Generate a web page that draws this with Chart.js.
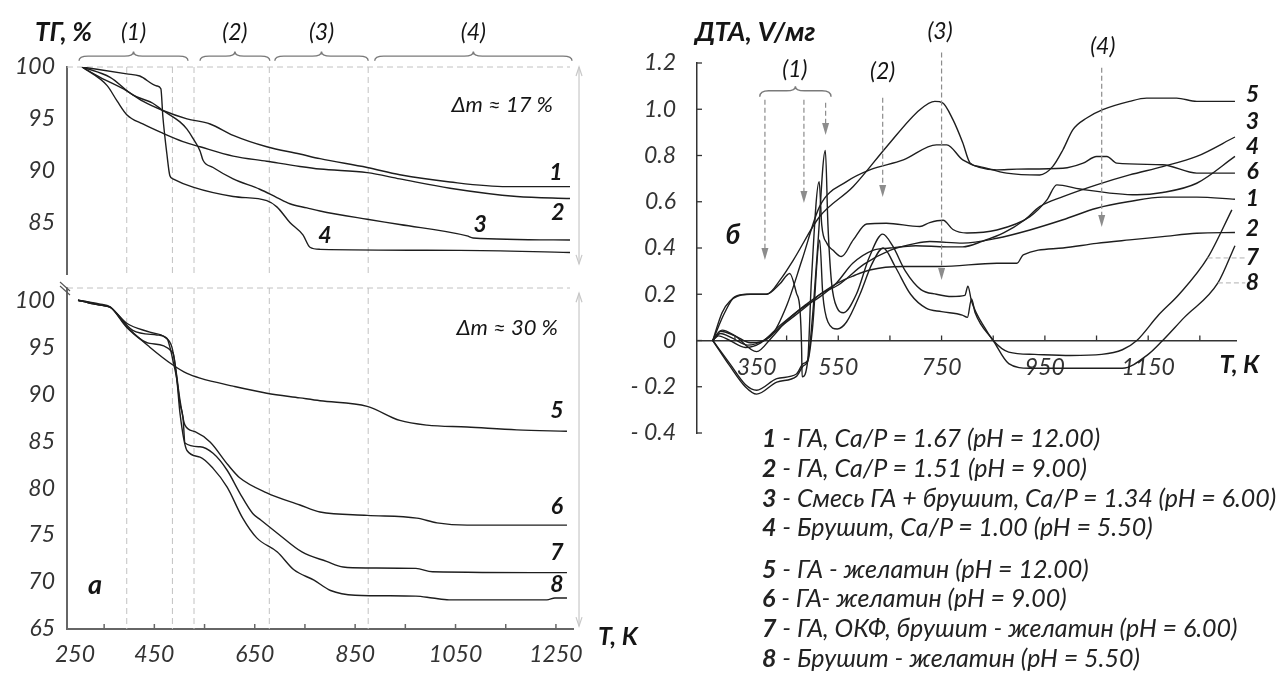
<!DOCTYPE html>
<html>
<head>
<meta charset="utf-8">
<script src="https://cdn.jsdelivr.net/npm/chart.js@4.4.1/dist/chart.umd.min.js"></script>
<style>
body { margin: 0; background: #fff; width: 1276px; height: 687px; overflow: hidden; position: relative; }
canvas { position: absolute; top: 0; }
#tgTop, #tgBot { left: 0; }
#dta { left: 600px; }
.leg { position: absolute; left: 762px; font: italic 25px Lato, sans-serif; color: #222; white-space: nowrap; line-height: 28px; }
.leg b { font-weight: bold; }
</style>
</head>
<body>
<canvas id="tgBot" width="640" height="687"></canvas>
<canvas id="tgTop" width="640" height="300"></canvas>
<canvas id="dta" width="676" height="687"></canvas>
<div id="legend"></div>
<script>
// ---- TG (mass loss, %) vs T, K ----
const tgXMin = 276, tgXMax = 1284;
const tgTopTicks = [85, 90, 95, 100];
const tgBotTicks = [65, 70, 75, 80, 85, 90, 95, 100];
const tgXTickVals = [292, 450, 650, 850, 1050, 1250];
const tgXTickLabels = ['250', '450', '650', '850', '1050', '1250'];
const tgXMinor = [350, 450, 550, 650, 750, 850, 950, 1050, 1150, 1250];
const tgStageLines = [395, 486, 529, 679, 876];
const tgStages = [[300, 517], [541, 680], [690, 876], [889, 1282]];
const stageNames = ['(1)', '(2)', '(3)', '(4)'];

const tg1T = [306, 342, 395, 427, 467, 515, 561, 607, 674, 740, 780, 874, 939, 1039, 1152, 1278];
const tg1 = [100, 99.0, 97.7, 96.7, 95.8, 95.0, 94.5, 93.4, 92.3, 91.6, 91.15, 90.3, 89.6, 88.9, 88.45, 88.45];
const tg2T = [306, 356, 376, 395, 427, 467, 507, 541, 607, 674, 740, 780, 874, 939, 1039, 1172, 1278];
const tg2 = [100, 98.2, 96.7, 95.4, 94.5, 93.6, 92.8, 92.3, 91.4, 90.9, 90.4, 90.15, 89.8, 89.2, 88.3, 87.5, 87.3];
const tg3T = [306, 362, 407, 447, 467, 501, 515, 527, 541, 547, 567, 607, 660, 694, 720, 754, 780, 874, 939, 1073, 1085, 1278];
const tg3 = [100, 99.0, 97.3, 96.5, 95.8, 94.7, 94.0, 93.1, 91.9, 91.0, 90.3, 89.2, 88.2, 87.4, 86.8, 86.4, 86.1, 85.3, 84.8, 83.7, 83.5, 83.3];
const tg4T = [306, 395, 421, 455, 463, 467, 475, 481, 487, 527, 607, 674, 694, 720, 746, 760, 780, 1059, 1278];
const tg4 = [100, 99.34, 99.13, 98.17, 97.9, 95.2, 91.6, 89.5, 89.2, 88.4, 87.5, 87.1, 86.5, 85.0, 83.8, 82.6, 82.4, 82.3, 82.1];

const tg5T = [298, 320, 340, 362, 395, 441, 487, 515, 541, 607, 674, 740, 780, 874, 939, 993, 1073, 1172, 1272];
const tg5 = [100, 99.8, 99.6, 99.3, 97.2, 95.0, 93.1, 92.2, 91.7, 90.85, 90.1, 89.6, 89.3, 88.7, 87.2, 86.7, 86.5, 86.2, 86.05];
const tg6T = [298, 320, 340, 362, 395, 441, 471, 485, 493, 501, 511, 531, 561, 597, 620, 674, 740, 780, 874, 973, 1013, 1073, 1272];
const tg6 = [100, 99.7, 99.5, 99.25, 97.55, 96.6, 96.06, 95.0, 92.55, 89.4, 86.7, 86.0, 84.9, 82.45, 81.1, 79.5, 78.2, 77.45, 77.1, 76.8, 76.3, 76.06, 76.06];
const tg7T = [298, 320, 340, 362, 407, 455, 475, 481, 487, 495, 501, 507, 511, 541, 567, 595, 620, 646, 662, 695, 744, 793, 826, 874, 971, 1004, 1272];
const tg7 = [100, 99.8, 99.5, 99.25, 96.8, 96.3, 95.96, 95.0, 93.6, 91.5, 89.0, 87.55, 84.8, 84.4, 83.7, 81.9, 79.5, 77.3, 76.6, 75.2, 73.2, 72.2, 71.6, 71.5, 71.45, 71.1, 71.0];
const tg8T = [298, 320, 340, 362, 395, 441, 487, 495, 501, 515, 541, 567, 595, 626, 654, 695, 728, 768, 801, 850, 971, 1004, 1037, 1232, 1248, 1272];
const tg8 = [100, 99.7, 99.5, 99.25, 97.1, 95.4, 94.4, 91.5, 88.0, 84.0, 83.3, 82.1, 80.1, 76.8, 74.7, 73.2, 71.3, 70.2, 69.1, 68.6, 68.5, 68.3, 68.1, 68.1, 68.3, 68.3];

// ---- DTA, V/mg vs T, K ----
const dtaXMin = 276.5, dtaXMax = 1320;
const dtaYTicks = [-0.4, -0.2, 0, 0.2, 0.4, 0.6, 0.8, 1.0, 1.2];
const dtaYLabels = ['- 0.4', '- 0.2', '0', '0.2', '0.4', '0.6', '0.8', '1.0', '1.2'];
const dtaXTickVals = [392, 550, 750, 950, 1150];
const dtaXTickLabels = ['350', '550', '750', '950', '1150'];
const dtaXMinor = [350, 450, 550, 650, 750, 850, 950, 1050, 1150, 1250];

const dta1T = [307, 322, 345, 375, 405, 450, 490, 515, 550, 600, 650, 700, 727, 791, 857, 921, 985, 1050, 1114, 1178, 1244, 1318];
const dta1 = [0, 0.03, 0.01, -0.02, 0, 0.08, 0.15, 0.2, 0.24, 0.33, 0.39, 0.42, 0.428, 0.421, 0.442, 0.478, 0.522, 0.572, 0.601, 0.62, 0.62, 0.611];
const dta2T = [307, 325, 350, 392, 420, 450, 490, 515, 550, 580, 611, 675, 747, 857, 896, 908, 985, 1050, 1114, 1178, 1244, 1318];
const dta2 = [0, 0.045, 0.02, -0.048, 0.01, 0.085, 0.16, 0.2, 0.25, 0.28, 0.305, 0.32, 0.32, 0.334, 0.334, 0.37, 0.4, 0.42, 0.435, 0.449, 0.464, 0.467];
const dta3T = [307, 318, 340, 370, 400, 440, 480, 515, 547, 578, 617, 650, 700, 760, 791, 830, 870, 910, 940, 985, 1050, 1114, 1178, 1244, 1318];
const dta3 = [0, 0.02, 0.0, -0.03, -0.01, 0.07, 0.14, 0.19, 0.25, 0.334, 0.39, 0.40, 0.41, 0.405, 0.405, 0.43, 0.465, 0.52, 0.579, 0.622, 0.673, 0.716, 0.752, 0.796, 0.88];
const dta4T = [307, 325, 340, 373, 411, 437, 456, 469, 476, 479, 480, 491, 498, 513, 518, 528, 540, 556, 579, 605, 643, 708, 727, 753, 772, 799, 857, 921, 954, 973, 1018, 1128, 1178, 1244, 1318];
const dta4 = [0, 0.12, 0.17, 0.2, 0.2, 0.245, 0.29, 0.205, 0.13, -0.03, -0.157, -0.084, 0.26, 0.687, 0.5, 0.42, 0.39, 0.363, 0.435, 0.504, 0.507, 0.493, 0.51, 0.52, 0.48, 0.465, 0.478, 0.536, 0.608, 0.673, 0.655, 0.63, 0.64, 0.68, 0.796];
const dta5T = [307, 330, 350, 380, 411, 440, 463, 514, 579, 644, 708, 737, 752, 772, 791, 805, 824, 876, 940, 965, 985, 1004, 1031, 1062, 1114, 1147, 1205, 1244, 1318];
const dta5 = [0, 0.12, 0.19, 0.2, 0.2, 0.27, 0.348, 0.536, 0.666, 0.839, 0.998, 1.034, 1.028, 0.955, 0.855, 0.768, 0.752, 0.724, 0.716, 0.752, 0.825, 0.911, 0.962, 0.998, 1.034, 1.048, 1.048, 1.034, 1.034];
const dta6T = [307, 322, 350, 380, 420, 450, 480, 514, 566, 611, 676, 740, 760, 791, 857, 896, 985, 1024, 1050, 1070, 1089, 1178, 1244, 1318];
const dta6 = [0, 0.04, 0.02, -0.01, 0.02, 0.15, 0.35, 0.58, 0.687, 0.738, 0.781, 0.846, 0.846, 0.781, 0.738, 0.741, 0.745, 0.767, 0.796, 0.796, 0.767, 0.76, 0.724, 0.724];
const dta7T = [307, 340, 370, 392, 431, 469, 482, 491, 500, 510, 525, 530, 537, 548, 560, 585, 610, 636, 655, 680, 710, 740, 770, 795, 801, 808, 835, 850, 880, 930, 1000, 1060, 1100, 1128, 1170, 1210, 1265, 1312];
const dta7 = [0, -0.1, -0.19, -0.215, -0.165, -0.145, -0.1, -0.084, 0.1, 0.4, 0.822, 0.5, 0.25, 0.14, 0.12, 0.2, 0.36, 0.46, 0.41, 0.3, 0.22, 0.2, 0.19, 0.195, 0.235, 0.17, 0.05, 0, -0.05, -0.06, -0.065, -0.06, -0.04, 0, 0.11, 0.2, 0.357, 0.565];
const dta8T = [307, 340, 370, 392, 431, 469, 482, 491, 500, 514, 520, 530, 548, 566, 592, 615, 637, 660, 690, 720, 750, 790, 800, 808, 815, 850, 880, 920, 1000, 1100, 1150, 1178, 1220, 1285, 1318];
const dta8 = [0, -0.11, -0.2, -0.232, -0.18, -0.155, -0.11, -0.09, 0.05, 0.435, 0.2, 0.08, 0.05, 0.08, 0.2, 0.33, 0.40, 0.32, 0.2, 0.14, 0.125, 0.11, 0.1, 0.18, 0.12, 0, -0.1, -0.12, -0.12, -0.12, -0.06, 0, 0.1, 0.249, 0.41];

const legendNums = ['1', '2', '3', '4', '5', '6', '7', '8'];
const legendTexts = [
    ' - ГА, Ca/P = 1.67 (pH = 12.00)',
    ' - ГА, Ca/P = 1.51 (pH = 9.00)',
    ' - Смесь ГА + брушит, Ca/P = 1.34 (pH = 6.00)',
    ' - Брушит, Ca/P = 1.00 (pH = 5.50)',
    ' - ГА - желатин (pH = 12.00)',
    ' - ГА- желатин (pH = 9.00)',
    ' - ГА, ОКФ, брушит - желатин (pH = 6.00)',
    ' - Брушит - желатин (pH = 5.50)'
];

const FAM = 'Lato, "Open Sans", sans-serif';
const F_IT = 'italic 23px ' + FAM;
const F_BI = 'italic bold 23px ' + FAM;
const TICK_FONT = { family: FAM, size: 23, style: 'italic' };
const DASH = '#c2c2c2';

function ser(T, V) {
    return T.map((t, i) => ({ x: t, y: V[i] }));
}
function ds(T, V) {
    return { data: ser(T, V), borderColor: '#1e1e1e', borderWidth: 1.4, pointRadius: 0, fill: false, cubicInterpolationMode: 'monotone' };
}
function line(ctx, x1, y1, x2, y2) {
    ctx.beginPath(); ctx.moveTo(x1, y1); ctx.lineTo(x2, y2); ctx.stroke();
}
function label(ctx, s, x, y, font, align) {
    ctx.font = font; ctx.fillStyle = '#151515';
    ctx.textAlign = align || 'center'; ctx.textBaseline = 'middle';
    ctx.fillText(s, x, y);
}
function brace(ctx, x1, x2, yEnd, yBody, yTip) {
    const xm = (x1 + x2) / 2, r = 9;
    ctx.beginPath();
    ctx.moveTo(x1, yEnd);
    ctx.quadraticCurveTo(x1, yBody, x1 + r, yBody);
    ctx.lineTo(xm - r, yBody);
    ctx.quadraticCurveTo(xm, yBody, xm, yTip);
    ctx.quadraticCurveTo(xm, yBody, xm + r, yBody);
    ctx.lineTo(x2 - r, yBody);
    ctx.quadraticCurveTo(x2, yBody, x2, yEnd);
    ctx.stroke();
}
function dblArrow(ctx, x, y1, y2) {
    line(ctx, x, y1, x, y2);
    ctx.beginPath(); ctx.moveTo(x - 3, y1 + 9); ctx.lineTo(x, y1); ctx.lineTo(x + 3, y1 + 9); ctx.stroke();
    ctx.beginPath(); ctx.moveTo(x - 3, y2 - 9); ctx.lineTo(x, y2); ctx.lineTo(x + 3, y2 - 9); ctx.stroke();
}
function downArrow(ctx, x, y1, y2) {
    ctx.setLineDash([5, 3]);
    line(ctx, x, y1, x, y2 - 6);
    ctx.setLineDash([]);
    ctx.beginPath(); ctx.moveTo(x - 3.5, y2 - 12); ctx.lineTo(x, y2); ctx.lineTo(x + 3.5, y2 - 12); ctx.closePath(); ctx.fill();
}

const baseOptions = () => ({
    responsive: false,
    animation: false,
    plugins: { legend: { display: false }, tooltip: { enabled: false } },
    elements: { point: { radius: 0 } }
});

// upper TG panel (curves 1-4)
const tgTopDeco = {
    id: 'tgTopDeco',
    beforeDatasetsDraw(chart) {
        const { ctx, chartArea: ca, scales: { x, y } } = chart;
        ctx.save();
        ctx.strokeStyle = DASH; ctx.lineWidth = 1; ctx.setLineDash([6, 4]);
        line(ctx, ca.left, y.getPixelForValue(100), ca.right - 3, y.getPixelForValue(100));
        tgStageLines.forEach(t => line(ctx, x.getPixelForValue(t), y.getPixelForValue(100), x.getPixelForValue(t), ca.bottom));
        ctx.restore();
    },
    afterDraw(chart) {
        const { ctx, chartArea: ca, scales: { x, y } } = chart;
        const X = v => x.getPixelForValue(v), Y = v => y.getPixelForValue(v);
        ctx.save();
        ctx.strokeStyle = '#7a7a7a'; ctx.lineWidth = 1.4;
        tgStages.forEach((s, i) => {
            brace(ctx, X(s[0]), X(s[1]), Y(100.6), Y(101.05), Y(101.5));
            label(ctx, stageNames[i], X((s[0] + s[1]) / 2), Y(103.3), F_IT);
        });
        label(ctx, 'ТГ, %', ca.left - 32, Y(103.3), 'italic bold 26px ' + FAM, 'left');
        label(ctx, '\u0394m \u2248 17 %', X(1143), Y(96.37), 'italic 22px ' + FAM);
        [['1', 1250, 89.8], ['2', 1254, 85.9], ['3', 1099, 84.83], ['4', 790, 83.75]]
            .forEach(l => label(ctx, l[0], X(l[1]), Y(l[2]), F_BI));
        ctx.strokeStyle = '#c8c8c8'; ctx.lineWidth = 1.2;
        dblArrow(ctx, X(1296), Y(100), Y(81));
        ctx.restore();
    }
};

new Chart(document.getElementById('tgTop'), {
    type: 'line',
    data: { datasets: [ds(tg1T, tg1), ds(tg2T, tg2), ds(tg3T, tg3), ds(tg4T, tg4)] },
    options: Object.assign(baseOptions(), {
        layout: { padding: { left: 0, top: 67, right: 67, bottom: 12 } },
        scales: {
            x: { type: 'linear', min: tgXMin, max: tgXMax, display: false },
            y: {
                min: 80, max: 100,
                afterFit: s => { s.width = 67; },
                afterBuildTicks: s => { s.ticks = tgTopTicks.map(v => ({ value: v })); },
                grid: { display: false, drawTicks: false },
                border: { display: true, color: '#666', width: 2 },
                ticks: { padding: 12, color: '#333', font: TICK_FONT }
            }
        }
    }),
    plugins: [tgTopDeco]
});

// lower TG panel (curves 5-8)
const tgBotDeco = {
    id: 'tgBotDeco',
    beforeDatasetsDraw(chart) {
        const { ctx, chartArea: ca, scales: { x } } = chart;
        ctx.save();
        ctx.strokeStyle = DASH; ctx.lineWidth = 1; ctx.setLineDash([6, 4]);
        line(ctx, ca.left, ca.top, ca.right - 3, ca.top);
        tgStageLines.forEach(t => line(ctx, x.getPixelForValue(t), ca.top, x.getPixelForValue(t), ca.bottom));
        ctx.restore();
    },
    afterDraw(chart) {
        const { ctx, chartArea: ca, scales: { x, y } } = chart;
        const X = v => x.getPixelForValue(v), Y = v => y.getPixelForValue(v);
        ctx.save();
        ctx.strokeStyle = '#666'; ctx.lineWidth = 1.5;
        tgXMinor.forEach(t => line(ctx, X(t), ca.bottom, X(t), ca.bottom - 5));
        ctx.strokeStyle = '#555'; ctx.lineWidth = 1.1;
        line(ctx, ca.left - 7, ca.top - 6, ca.left + 3, ca.top + 3);
        line(ctx, ca.left - 7, ca.top - 2, ca.left + 3, ca.top + 7);
        [['5', 1252, 88.3], ['6', 1252, 78.0], ['7', 1252, 73.1], ['8', 1252, 69.7]]
            .forEach(l => label(ctx, l[0], X(l[1]), Y(l[2]), F_BI));
        label(ctx, '\u0394m \u2248 30 %', X(1153), Y(97.1), 'italic 22px ' + FAM);
        label(ctx, 'а', X(332), Y(69.6), 'italic bold 27px ' + FAM);
        label(ctx, 'T, K', ca.right + 25, Y(65) + 8, 'italic bold 25px ' + FAM, 'left');
        ctx.strokeStyle = '#c8c8c8'; ctx.lineWidth = 1.2;
        dblArrow(ctx, X(1296), Y(100.74), Y(65.3));
        ctx.restore();
    }
};

new Chart(document.getElementById('tgBot'), {
    type: 'line',
    data: { datasets: [ds(tg5T, tg5), ds(tg6T, tg6), ds(tg7T, tg7), ds(tg8T, tg8)] },
    options: Object.assign(baseOptions(), {
        layout: { padding: { left: 0, top: 288, right: 67, bottom: 0 } },
        scales: {
            x: {
                type: 'linear', min: tgXMin, max: tgXMax,
                afterFit: s => { s.height = 58; },
                afterBuildTicks: s => { s.ticks = tgXTickVals.map(v => ({ value: v })); },
                grid: { display: false, drawTicks: false },
                border: { display: true, color: '#666', width: 2 },
                ticks: { autoSkip: false, maxRotation: 0, padding: 12, color: '#333', font: TICK_FONT,
                    callback: (v, i) => tgXTickLabels[i] }
            },
            y: {
                min: 65, max: 101.3,
                afterFit: s => { s.width = 67; },
                afterBuildTicks: s => { s.ticks = tgBotTicks.map(v => ({ value: v })); },
                grid: { display: false, drawTicks: false },
                border: { display: true, color: '#666', width: 2 },
                ticks: { padding: 12, color: '#333', font: TICK_FONT }
            }
        }
    }),
    plugins: [tgBotDeco]
});

// DTA panel
const dtaArrows = [[408, 1.041, 0.348], [483.5, 1.041, 0.595], [525.5, 1.028, 0.889], [636, 1.05, 0.621], [750, 1.245, 0.262], [1060, 1.179, 0.491]];
const dtaStageLabels = [['(1)', 466, 1.171], ['(2)', 636, 1.162], ['(3)', 747, 1.335], ['(4)', 1062, 1.271]];
const dtaCurveLabels = [['5', 1.063], ['3', 0.946], ['4', 0.837], ['6', 0.729], ['1', 0.613], ['2', 0.483], ['7', 0.357], ['8', 0.249]];

const dtaDeco = {
    id: 'dtaDeco',
    afterDraw(chart) {
        const { ctx, chartArea: ca, scales: { x, y } } = chart;
        const X = v => x.getPixelForValue(v), Y = v => y.getPixelForValue(v);
        ctx.save();
        ctx.strokeStyle = '#333'; ctx.lineWidth = 1.3;
        dtaYTicks.forEach(v => line(ctx, ca.left, Y(v), ca.left + 5, Y(v)));
        dtaXMinor.forEach(v => line(ctx, X(v), Y(0), X(v), Y(0) - 5));
        ctx.strokeStyle = '#8c8c8c'; ctx.fillStyle = '#8c8c8c'; ctx.lineWidth = 1.2;
        dtaArrows.forEach(a => downArrow(ctx, X(a[0]), Y(a[1]), Y(a[2])));
        ctx.strokeStyle = '#7a7a7a'; ctx.lineWidth = 1.4;
        brace(ctx, X(398), X(536), Y(1.054), Y(1.08), Y(1.10));
        dtaStageLabels.forEach(l => label(ctx, l[0], X(l[1]), Y(l[2]), F_IT));
        label(ctx, 'ДТА, V/мг', ca.left - 2, Y(1.331), 'italic bold 27px ' + FAM, 'left');
        label(ctx, 'б', X(346), Y(0.457), 'italic bold 27px ' + FAM);
        label(ctx, 'T, К', X(1288), Y(0) + 24, 'italic bold 25px ' + FAM, 'left');
        dtaCurveLabels.forEach(l => label(ctx, l[0], X(1352), Y(l[1]), F_BI));
        ctx.strokeStyle = '#b0b0b0'; ctx.lineWidth = 1; ctx.setLineDash([5, 3]);
        line(ctx, X(1265), Y(0.357), X(1338), Y(0.357));
        line(ctx, X(1285), Y(0.249), X(1338), Y(0.249));
        ctx.restore();
    }
};

new Chart(document.getElementById('dta'), {
    type: 'line',
    data: { datasets: [ds(dta1T, dta1), ds(dta2T, dta2), ds(dta3T, dta3), ds(dta4T, dta4), ds(dta5T, dta5), ds(dta6T, dta6), ds(dta7T, dta7), ds(dta8T, dta8)] },
    options: Object.assign(baseOptions(), {
        layout: { padding: { left: 0, top: 63, right: 40, bottom: 254 } },
        scales: {
            x: {
                type: 'linear', min: dtaXMin, max: dtaXMax, position: { y: 0 },
                afterFit: s => { s.height = 0; },
                afterBuildTicks: s => { s.ticks = dtaXTickVals.map(v => ({ value: v })); },
                grid: { display: false, drawTicks: false },
                border: { display: true, color: '#333', width: 1.5 },
                ticks: { autoSkip: false, maxRotation: 0, padding: 13, color: '#333', font: TICK_FONT,
                    callback: (v, i) => dtaXTickLabels[i] }
            },
            y: {
                min: -0.4, max: 1.2,
                afterFit: s => { s.width = 97; },
                afterBuildTicks: s => { s.ticks = dtaYTicks.map(v => ({ value: v })); },
                grid: { display: false, drawTicks: false },
                border: { display: true, color: '#333', width: 1.5 },
                ticks: { padding: 21, color: '#333', font: TICK_FONT,
                    callback: (v, i) => dtaYLabels[i] }
            }
        }
    }),
    plugins: [dtaDeco]
});

// legend text
const legendTop = [437, 467, 497, 526, 568, 597, 627, 657];
const legendBox = document.getElementById('legend');
legendNums.forEach((n, i) => {
    const d = document.createElement('div');
    d.className = 'leg';
    d.style.top = (legendTop[i] - 14) + 'px';
    d.innerHTML = '<b>' + n + '</b>' + legendTexts[i];
    legendBox.appendChild(d);
});
</script>
</body>
</html>
